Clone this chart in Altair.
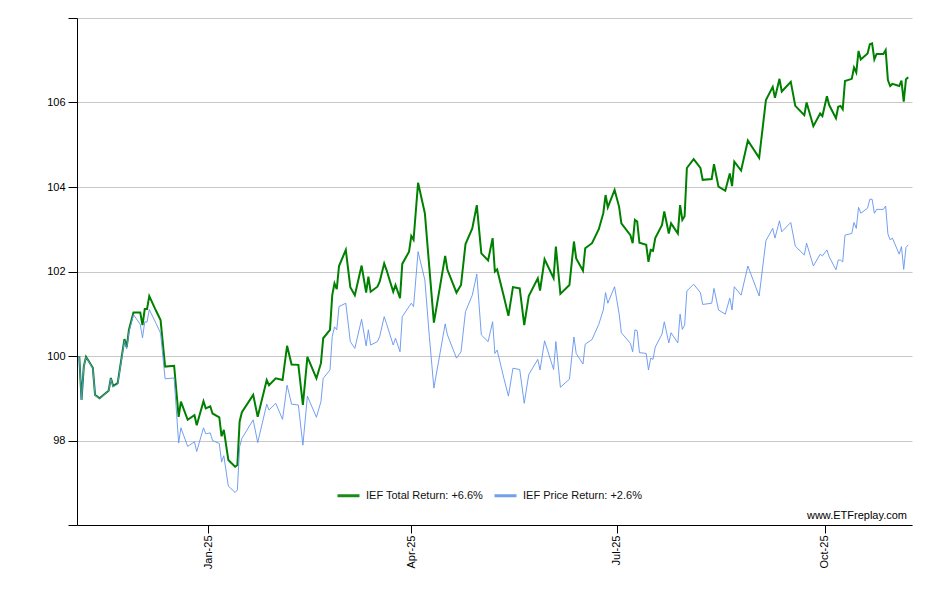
import altair as alt
import pandas as pd

dates = [
    "2024-11-05", "2024-11-06", "2024-11-07", "2024-11-08", "2024-11-11", "2024-11-12", "2024-11-14",
    "2024-11-18", "2024-11-19", "2024-11-20", "2024-11-22", "2024-11-25", "2024-11-26", "2024-11-27", "2024-11-29",
    "2024-12-02", "2024-12-03", "2024-12-04", "2024-12-05", "2024-12-06", "2024-12-09", "2024-12-11", "2024-12-13",
    "2024-12-17", "2024-12-19", "2024-12-20", "2024-12-23", "2024-12-26", "2024-12-27", "2024-12-30", "2024-12-31",
    "2025-01-02", "2025-01-03", "2025-01-06", "2025-01-07", "2025-01-08", "2025-01-10", "2025-01-13", "2025-01-14",
    "2025-01-15", "2025-01-16", "2025-01-21", "2025-01-23", "2025-01-27", "2025-01-28", "2025-01-31",
    "2025-02-03", "2025-02-05", "2025-02-07", "2025-02-10", "2025-02-12", "2025-02-14", "2025-02-18", "2025-02-20",
    "2025-02-21", "2025-02-24", "2025-02-25", "2025-02-26", "2025-02-27", "2025-02-28",
    "2025-03-03", "2025-03-05", "2025-03-07", "2025-03-10", "2025-03-12", "2025-03-13", "2025-03-14", "2025-03-17",
    "2025-03-18", "2025-03-20", "2025-03-21", "2025-03-24", "2025-03-25", "2025-03-27", "2025-03-28", "2025-03-31",
    "2025-04-01", "2025-04-02", "2025-04-04", "2025-04-07", "2025-04-09", "2025-04-11", "2025-04-16", "2025-04-17",
    "2025-04-21", "2025-04-23", "2025-04-25", "2025-04-28", "2025-04-30",
    "2025-05-02", "2025-05-05", "2025-05-07", "2025-05-08", "2025-05-09", "2025-05-12", "2025-05-14", "2025-05-16",
    "2025-05-19", "2025-05-21", "2025-05-23", "2025-05-27", "2025-05-28", "2025-05-30",
    "2025-06-03", "2025-06-04", "2025-06-06", "2025-06-10", "2025-06-12", "2025-06-13", "2025-06-16", "2025-06-17",
    "2025-06-20", "2025-06-23", "2025-06-25", "2025-06-26", "2025-06-27", "2025-06-30",
    "2025-07-02", "2025-07-03", "2025-07-07", "2025-07-08", "2025-07-09", "2025-07-10", "2025-07-11", "2025-07-14",
    "2025-07-15", "2025-07-16", "2025-07-17", "2025-07-18", "2025-07-21", "2025-07-22", "2025-07-24", "2025-07-25",
    "2025-07-28", "2025-07-29", "2025-07-30", "2025-07-31",
    "2025-08-01", "2025-08-04", "2025-08-07", "2025-08-08", "2025-08-12", "2025-08-13", "2025-08-15", "2025-08-18",
    "2025-08-20", "2025-08-21", "2025-08-22", "2025-08-25", "2025-08-28",
    "2025-09-02", "2025-09-05", "2025-09-08", "2025-09-09", "2025-09-11", "2025-09-12", "2025-09-16", "2025-09-18",
    "2025-09-22", "2025-09-23", "2025-09-26", "2025-09-29", "2025-09-30",
    "2025-10-02", "2025-10-03", "2025-10-06", "2025-10-07", "2025-10-08", "2025-10-09", "2025-10-10", "2025-10-13",
    "2025-10-14", "2025-10-15", "2025-10-16", "2025-10-17", "2025-10-20", "2025-10-21", "2025-10-22", "2025-10-23",
    "2025-10-24", "2025-10-27", "2025-10-28", "2025-10-29", "2025-10-30", "2025-10-31",
    "2025-11-03", "2025-11-04", "2025-11-05", "2025-11-06", "2025-11-07",
]

total_return = [
    100.0, 98.96, 99.75, 99.98, 99.72, 99.08, 99.0, 99.18, 99.48, 99.29, 99.36, 100.4, 100.21, 100.62, 101.03,
    101.03, 100.73, 101.11, 101.11, 101.42, 101.07, 100.85, 99.75, 99.77, 98.56, 98.92, 98.49, 98.6, 98.36, 98.93, 98.76,
    98.81, 98.64, 98.55, 98.1, 98.25, 97.54, 97.38, 97.42, 98.45, 98.67, 99.08, 98.56, 99.43, 99.31, 99.47,
    99.43, 100.24, 99.8, 99.79, 98.84, 99.98, 99.47, 99.83, 100.42, 100.62, 101.44, 101.72, 101.58, 102.13,
    102.51, 101.63, 101.44, 102.14, 101.5, 101.88, 101.52, 101.64, 101.76, 102.19, 102.04, 101.52, 101.68, 101.37, 102.18, 102.47,
    102.84, 102.75, 104.10, 103.38, 102.08, 100.79, 102.37, 102.04, 101.5, 101.68, 102.65, 103.02, 103.57,
    102.43, 102.26, 102.79, 102.0, 102.05, 101.40, 100.95, 101.63, 101.60, 100.73, 101.42, 101.84, 101.55, 102.29,
    101.84, 102.59, 101.47, 101.68, 102.71, 102.31, 102.02, 102.55, 102.67, 103.00, 103.38, 103.81, 103.52, 103.93,
    103.53, 103.14, 102.86, 102.67, 103.22, 103.18, 102.68, 102.63, 102.23, 102.51, 102.49, 102.79, 103.10, 103.42,
    102.90, 103.14, 102.90, 103.57, 103.22, 103.31,
    104.45, 104.66, 104.45, 104.17, 104.19, 104.54, 104.01, 103.91, 104.32, 104.02, 104.60, 104.39, 105.10,
    104.69, 106.06, 106.37, 106.11, 106.56, 106.26, 106.49, 105.92, 105.70, 106.00, 105.44, 105.74, 105.68,
    106.15, 105.94, 105.63, 105.90, 105.92, 105.84, 106.51, 106.56, 106.83, 106.71, 107.22, 107.02, 107.16, 107.38,
    107.40, 107.02, 107.15, 107.15, 107.24, 106.53, 106.39, 106.44,
    106.39, 106.52, 106.02, 106.55, 106.60,
]

price_return = [
    100.0, 98.96, 99.75, 99.97, 99.71, 99.07, 98.99, 99.17, 99.46, 99.27, 99.33, 100.36, 100.17, 100.57, 100.98,
    100.75, 100.43, 100.81, 100.80, 101.10, 100.77, 100.54, 99.46, 99.48, 97.94, 98.3, 97.86, 97.97, 97.74, 98.3, 98.16,
    98.18, 98.0, 97.93, 97.49, 97.64, 96.92, 96.77, 96.83, 97.85, 98.05, 98.49, 97.95, 98.86, 98.72, 98.88,
    98.5, 99.31, 98.86, 98.84, 97.89, 99.05, 98.55, 98.92, 99.47, 99.67, 100.46, 100.69, 100.62, 101.17,
    101.25, 100.34, 100.18, 100.87, 100.24, 100.62, 100.26, 100.34, 100.46, 100.93, 100.77, 100.26, 100.42, 100.10, 100.93, 101.17,
    101.25, 101.17, 102.47, 101.80, 100.46, 99.24, 100.76, 100.50, 99.95, 100.10, 101.05, 101.44, 101.94,
    100.50, 100.34, 100.81, 100.06, 100.14, 99.47, 99.05, 99.71, 99.68, 98.88, 99.56, 99.92, 99.67, 100.36,
    99.68, 100.34, 99.26, 99.45, 100.45, 100.06, 99.81, 100.28, 100.39, 100.75, 101.09, 101.50, 101.25, 101.64,
    101.0, 100.55, 100.30, 100.10, 100.62, 100.60, 100.08, 100.06, 99.67, 99.95, 99.92, 100.21, 100.52, 100.81,
    100.31, 100.55, 100.31, 100.99, 100.63, 100.73,
    101.54, 101.70, 101.50, 101.22, 101.25, 101.60, 101.09, 100.99, 101.37, 101.09, 101.64, 101.44, 102.13,
    101.42, 102.73, 103.02, 102.79, 103.20, 102.94, 103.16, 102.60, 102.39, 102.67, 102.13, 102.41, 102.37,
    102.51, 102.35, 102.04, 102.27, 102.27, 102.23, 102.86, 102.90, 103.16, 103.02, 103.52, 103.38, 103.50, 103.71,
    103.71, 103.38, 103.47, 103.47, 103.55, 102.89, 102.75, 102.79,
    102.41, 102.59, 102.05, 102.57, 102.63,
]

series_names = ["IEF Total Return: +6.6%", "IEF Price Return: +2.6%"]
series_colors = ["#008000", "#6495ED"]
y_ticks = [96, 98, 100, 102, 104, 106, 108]
watermark = ["www.ETFreplay.com"]

FONT = "Liberation Sans"

df = pd.DataFrame({
    "date": dates + dates,
    "value": total_return + price_return,
    "series": [series_names[0]] * len(dates) + [series_names[1]] * len(dates),
})

x_enc = alt.X(
    "date:T",
    title=None,
    scale=alt.Scale(
        type="utc",
        domain=[
            alt.DateTime(year=2024, month=11, date=4, utc=True),
            alt.DateTime(year=2025, month=11, date=8, hours=16, utc=True),
        ],
    ),
    axis=alt.Axis(
        values=[
            alt.DateTime(year=2025, month=1, date=1, utc=True),
            alt.DateTime(year=2025, month=4, date=1, utc=True),
            alt.DateTime(year=2025, month=7, date=1, utc=True),
            alt.DateTime(year=2025, month=10, date=1, utc=True),
        ],
        format="%b-%y",
        labelAngle=-90,
        tickSize=8,
        labelPadding=2,
        grid=False,
    ),
)

y_enc = alt.Y(
    "value:Q",
    title=None,
    scale=alt.Scale(domain=[96, 108], nice=False, zero=False),
    axis=alt.Axis(
        values=y_ticks,
        labelExpr="(datum.value == 96 || datum.value == 108) ? '' : datum.label",
        grid=True,
        gridColor="#c8c8c8",
        gridWidth=1,
        tickSize=9,
        labelPadding=3,
    ),
)

color_enc = alt.Color(
    "series:N",
    scale=alt.Scale(domain=series_names, range=series_colors),
    legend=alt.Legend(
        title=None,
        orient="none",
        legendX=259,
        legendY=465,
        direction="horizontal",
        symbolType="stroke",
        symbolStrokeWidth=3,
        symbolSize=484,
        labelFont=FONT,
        labelFontSize=11,
        labelColor="#111111",
        labelOffset=5,
        columnPadding=4,
        padding=0,
    ),
)

base = alt.Chart(df)

total_line = base.transform_filter(
    alt.datum.series == series_names[0]
).mark_line(strokeWidth=2).encode(x=x_enc, y=y_enc, color=color_enc)

price_line = base.transform_filter(
    alt.datum.series == series_names[1]
).mark_line(strokeWidth=1, opacity=0.9).encode(x=x_enc, y=y_enc, color=color_enc)

wm = alt.Chart(pd.DataFrame({"label": watermark})).mark_text(
    align="right", baseline="middle", font=FONT, fontSize=11, color="#000000"
).encode(x=alt.value(830), y=alt.value(498), text="label:N")

chart = alt.layer(total_line, price_line, wm).properties(
    width=835,
    height=507,
    autosize=alt.AutoSizeParams(type="none"),
    padding={"left": 69, "top": 10, "right": 16, "bottom": 60},
).configure_view(stroke=None).configure_axis(
    domainColor="#000000",
    tickColor="#000000",
    labelColor="#000000",
    labelFont=FONT,
    labelFontSize=11,
)

chart.save("out.html", embed_options={"renderer": "svg", "actions": False})
